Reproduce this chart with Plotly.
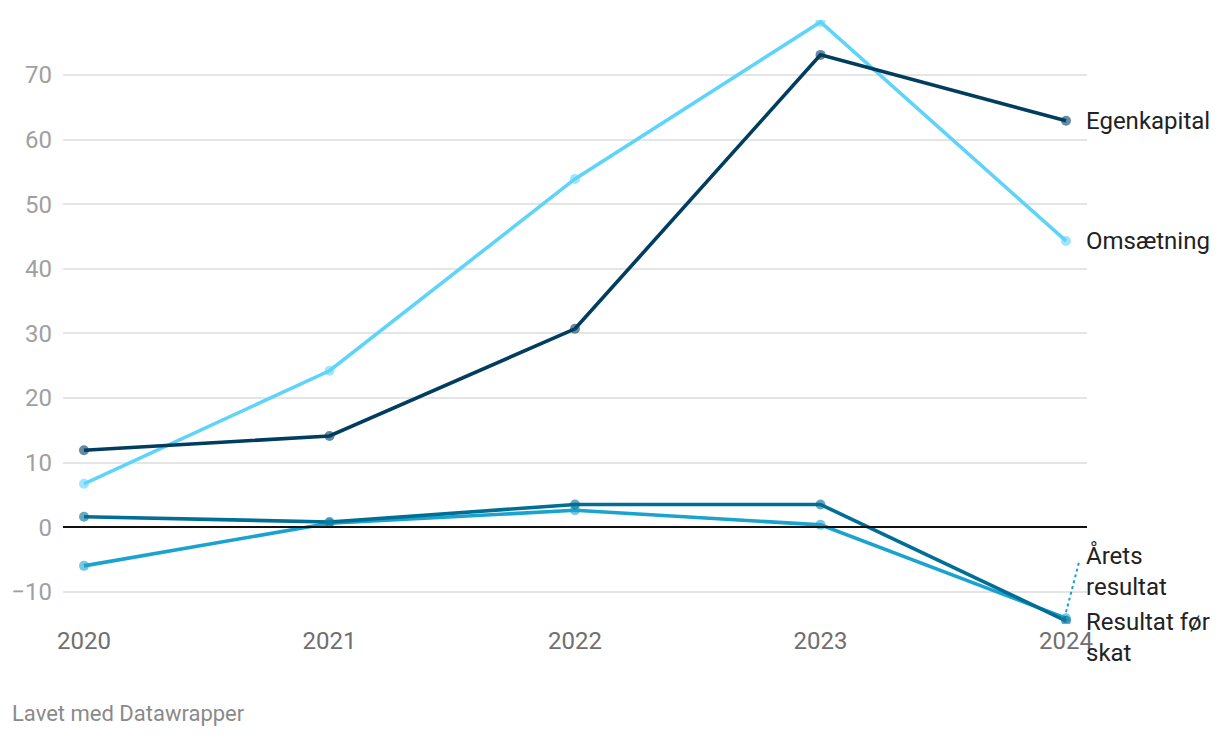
import plotly.graph_objects as go

years = [2020, 2021, 2022, 2023, 2024]
egenkapital = [11.9, 14.1, 30.7, 73.1, 62.9]
omsaetning = [6.7, 24.2, 53.9, 78.2, 44.3]
resultat_foer_skat = [1.6, 0.8, 3.5, 3.5, -14.5]
aarets_resultat = [-6.0, 0.6, 2.6, 0.35, -14.1]

series = [
    ("Omsætning", omsaetning, "#5fd4fb"),
    ("Årets resultat", aarets_resultat, "#1aa3cf"),
    ("Resultat før skat", resultat_foer_skat, "#006e95"),
    ("Egenkapital", egenkapital, "#003d5f"),
]

y_ticks = [-10, 0, 10, 20, 30, 40, 50, 60, 70]

fig = go.Figure()
for name, vals, col in series:
    fig.add_trace(go.Scatter(
        x=years, y=vals, mode="lines", name=name,
        line=dict(color=col, width=3.6), showlegend=False, hoverinfo="skip"))
for name, vals, col in series:
    fig.add_trace(go.Scatter(
        x=years, y=vals, mode="markers", name=name,
        marker=dict(color=col, size=10, opacity=0.6, line=dict(width=0)),
        showlegend=False, hoverinfo="skip"))

label_font = dict(family="Roboto", size=24, color="#222222")
labels = [
    ("Egenkapital", egenkapital[-1], 0),
    ("Omsætning", omsaetning[-1], 0),
    ("Årets<br>resultat", aarets_resultat[-1], 47),
    ("Resultat før<br>skat", resultat_foer_skat[-1], -17),
]
for text, val, ys in labels:
    fig.add_annotation(x=years[-1], y=val, text=text, showarrow=False,
                       xanchor="left", yanchor="middle", align="left",
                       xshift=18, yshift=ys, font=label_font)

# dotted connector for displaced label
fig.add_shape(type="line", xref="x", yref="y",
              xsizemode="pixel", ysizemode="pixel",
              xanchor=years[-1], yanchor=aarets_resultat[-1],
              x0=0, x1=13, y0=6, y1=56,
              line=dict(color="#1aa3cf", width=2, dash="dot"))

# zero line
fig.add_shape(type="line", xref="paper", yref="y", x0=0, x1=1, y0=0, y1=0,
              line=dict(color="#111111", width=2), layer="above")

fig.add_annotation(xref="paper", yref="paper", x=-0.0518, y=-0.149,
                   xanchor="left", yanchor="middle",
                   text="Lavet med Datawrapper", showarrow=False,
                   font=dict(family="Roboto", size=22, color="#8a8a8a"))

fig.update_layout(
    width=1220, height=738,
    margin=dict(l=55, r=141, t=12, b=122, autoexpand=False),
    paper_bgcolor="white", plot_bgcolor="white",
    font=dict(family="Roboto"),
    xaxis=dict(range=[2019.9145, 2024.0855], tickvals=years,
               ticktext=[str(y) for y in years], showgrid=False,
               zeroline=False, showline=False, ticks="", automargin=False,
               tickfont=dict(size=24, color="#6f6f6f")),
    yaxis=dict(range=[-15, 78.5], tickvals=y_ticks,
               ticktext=[("−" + str(-v)) if v < 0 else str(v) for v in y_ticks],
               showgrid=True, gridcolor="#e5e5e5", gridwidth=1.5,
               zeroline=False, showline=False, ticks="", automargin=False,
               ticklabelstandoff=10,
               tickfont=dict(size=24, color="#a0a0a0")),
)

fig.write_html("out.html")
